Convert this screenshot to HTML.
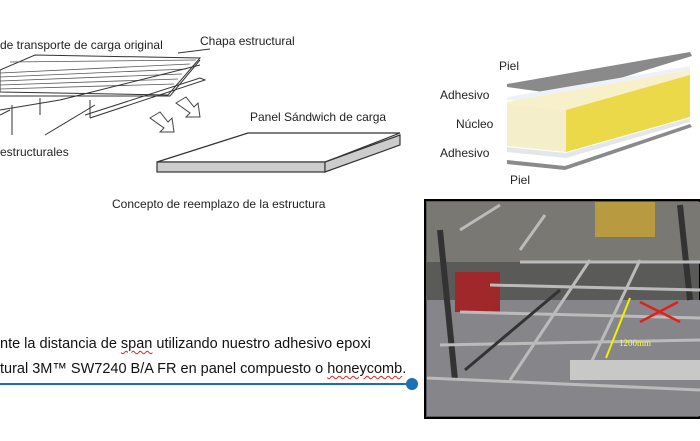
<!DOCTYPE html>
<html><head><meta charset="utf-8"><style>
body{margin:0;width:700px;height:441px;background:#fff;overflow:hidden;position:relative;font-family:"Liberation Sans",sans-serif;color:#222}
.t{position:absolute;white-space:nowrap;font-size:12px}
.b{position:absolute;white-space:nowrap;font-size:14.5px;color:#111}
u{text-decoration:underline wavy #d22;text-decoration-thickness:1px;text-underline-offset:2px}
</style></head><body>
<svg width="700" height="441" style="position:absolute;left:0;top:0">
<g stroke="#333" stroke-width="1" fill="#fff">
<polygon points="0,70 35,55 200,58 168,95 0,92" fill="#fff"/>
<g stroke="#555" stroke-width="0.8">
<line x1="0" y1="73" x2="190" y2="64"/><line x1="0" y1="77" x2="186" y2="69"/>
<line x1="0" y1="81" x2="182" y2="74"/><line x1="0" y1="85" x2="178" y2="79"/>
<line x1="0" y1="89" x2="174" y2="84"/><line x1="10" y1="62" x2="196" y2="60"/>
</g>
<polyline points="0,96 170,96 200,60" fill="none"/>
<polyline points="0,110 60,100 200,65" fill="none"/>
<polyline points="85,115 200,78 205,80 90,118" fill="none"/>
<line x1="40" y1="98" x2="40" y2="115"/><line x1="90" y1="100" x2="90" y2="118"/>
<line x1="0" y1="115" x2="10" y2="110"/>
<line x1="12" y1="105" x2="12" y2="135"/>
<line x1="45" y1="135" x2="95" y2="105"/>
<line x1="178" y1="53" x2="210" y2="49"/>
</g>
<g stroke="#444" fill="#fff" stroke-width="1">
<polygon points="150,118 160,112 168,122 172,118 174,132 160,132 164,128"/>
<polygon points="176,103 186,97 194,107 198,103 200,117 186,117 190,113"/>
</g>
<g stroke="#333" stroke-width="1.2">
<polygon points="157,162 248,133 400,133 325,162" fill="#fff"/>
<rect x="157" y="162" width="168" height="10" fill="#ccc"/>
<polygon points="325,162 400,135 400,145 325,172" fill="#ccc"/>
</g>
<polygon points="507,84 690,52 692,56 565,95 507,87" fill="#8a8a8a"/>
<polygon points="507,97 690,66 690,72 565,104 507,100" fill="#eef2f6"/>
<polygon points="507,102 690,70 690,78 566,110 507,104" fill="#f7f0c8"/>
<polygon points="507,104 566,110 566,152 507,146" fill="#f5eecb"/>
<polygon points="566,110 690,75 690,117 566,152" fill="#ecd94a"/>
<polygon points="507,147 566,153 690,118 690,122 566,158 507,152" fill="#e4e7ea"/>
<polygon points="507,160 565,166 690,124 692,127 565,170 507,164" fill="#8a8a8a"/>
<rect x="425" y="200" width="275" height="218" fill="#5a5a58" stroke="#000" stroke-width="2"/>
<rect x="427" y="202" width="273" height="60" fill="#7a7872"/>
<rect x="595" y="202" width="60" height="35" fill="#b89a40"/>
<rect x="427" y="300" width="273" height="116" fill="#86868a"/>
<rect x="455" y="272" width="45" height="40" fill="#a0282a"/>
<g stroke="#333" stroke-width="6"><line x1="440" y1="230" x2="455" y2="380"/><line x1="680" y1="205" x2="690" y2="300"/></g>
<g stroke="#bbb" stroke-width="3">
<line x1="520" y1="262" x2="700" y2="262"/><line x1="490" y1="285" x2="700" y2="290"/>
<line x1="460" y1="312" x2="700" y2="318"/><line x1="440" y1="345" x2="700" y2="340"/>
<line x1="590" y1="260" x2="510" y2="380"/><line x1="640" y1="260" x2="590" y2="365"/>
<line x1="427" y1="378" x2="700" y2="390"/>
<line x1="460" y1="230" x2="500" y2="205"/><line x1="545" y1="215" x2="520" y2="250"/>
</g>
<g stroke="#333" stroke-width="3"><line x1="465" y1="370" x2="560" y2="290"/></g>
<rect x="570" y="360" width="130" height="20" fill="#c8c8c6"/>
<line x1="630" y1="298" x2="606" y2="358" stroke="#f0f000" stroke-width="2"/>
<g stroke="#e02020" stroke-width="2.5"><line x1="640" y1="302" x2="680" y2="322"/><line x1="640" y1="322" x2="678" y2="302"/></g>
<text x="619" y="346" font-size="9" fill="#ff3" font-family="Liberation Serif">1200mm</text>
<line x1="0" y1="384" x2="410" y2="384" stroke="#1a6fb8" stroke-width="2"/>
<circle cx="412" cy="384" r="6" fill="#1a6fb8"/>
</svg>
<div class="t" style="left:0;top:38px">de transporte de carga original</div>
<div class="t" style="left:200px;top:34px">Chapa estructural</div>
<div class="t" style="left:0;top:145px">estructurales</div>
<div class="t" style="left:250px;top:110px">Panel Sándwich de carga</div>
<div class="t" style="left:112px;top:197px">Concepto de reemplazo de la estructura</div>
<div class="t" style="left:499px;top:59px">Piel</div>
<div class="t" style="left:440px;top:88px">Adhesivo</div>
<div class="t" style="left:456px;top:117px">Núcleo</div>
<div class="t" style="left:440px;top:146px">Adhesivo</div>
<div class="t" style="left:510px;top:173px">Piel</div>
<div class="b" style="left:0;top:336px">nte la distancia de <u>span</u> utilizando nuestro adhesivo epoxi</div>
<div class="b" style="left:0;top:361px">tural 3M™ SW7240 B/A FR en panel compuesto o <u>honeycomb</u>.</div>
</body></html>
